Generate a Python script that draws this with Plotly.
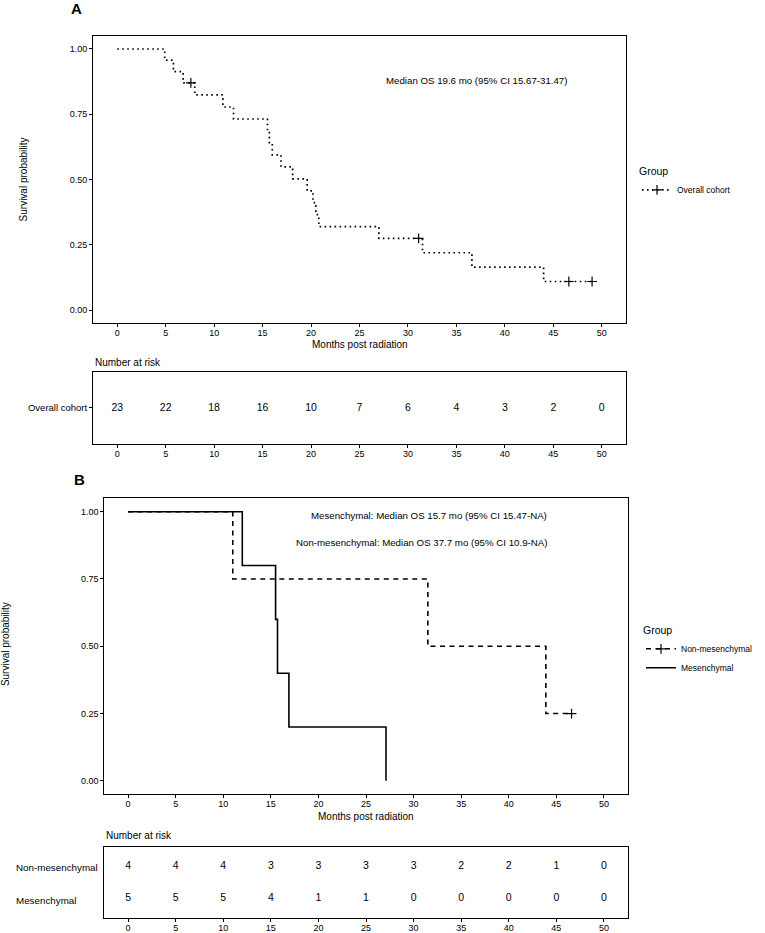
import plotly.graph_objects as go

W, H = 765, 933


def px(x):
    return x / W


def py(y):
    return 1 - y / H


FONT = "Liberation Sans, Arial, Helvetica, sans-serif"

# ---------------- data ----------------
# Panel A: overall cohort Kaplan-Meier step curve
a_time = [0, 4.9, 5.8, 6.8, 8.0, 10.9, 12.0, 15.5, 15.7, 16.0, 16.9, 18.1,
          19.6, 20.2, 20.5, 20.8, 27.0, 31.5, 36.6, 44.0, 49.0]
a_surv = [1.0, 0.957, 0.913, 0.870, 0.824, 0.778, 0.732, 0.686, 0.641, 0.595,
          0.549, 0.503, 0.457, 0.412, 0.366, 0.320, 0.275, 0.220, 0.165, 0.110, 0.110]
a_cens_time = [7.6, 31.1, 46.6, 49.0]
a_cens_surv = [0.870, 0.275, 0.110, 0.110]

# Panel B: groups
non_time = [0, 11.0, 31.5, 43.9, 46.6]
non_surv = [1.0, 0.75, 0.50, 0.25, 0.25]
non_cens_time = [46.6]
non_cens_surv = [0.25]

mes_time = [0, 12.0, 15.5, 15.7, 16.9, 27.1]
mes_surv = [1.0, 0.80, 0.60, 0.40, 0.20, 0.0]

# Risk tables
risk_times = [0, 5, 10, 15, 20, 25, 30, 35, 40, 45, 50]
risk_overall = [23, 22, 18, 16, 10, 7, 6, 4, 3, 2, 0]
risk_non = [4, 4, 4, 3, 3, 3, 3, 2, 2, 1, 0]
risk_mes = [5, 5, 5, 4, 1, 1, 0, 0, 0, 0, 0]

x_ticks = [0, 5, 10, 15, 20, 25, 30, 35, 40, 45, 50]
y_ticks = [0, 0.25, 0.5, 0.75, 1.0]
y_ticktext = ["0.00", "0.25", "0.50", "0.75", "1.00"]

DOT = "1.6px,3.4px"
DASH = "5px,4.5px"
CENS = dict(symbol="cross-thin", size=7, line=dict(color="black", width=1.2))

fig = go.Figure()

# ---------------- Panel A ----------------
fig.add_trace(go.Scatter(x=a_time, y=a_surv, mode="lines", line=dict(shape="hv", color="black", width=1.7, dash=DOT),
                         showlegend=False, xaxis="x", yaxis="y", hoverinfo="skip"))
fig.add_trace(go.Scatter(x=a_cens_time, y=a_cens_surv, mode="markers", marker=CENS,
                         showlegend=False, xaxis="x", yaxis="y", hoverinfo="skip"))
fig.add_trace(go.Scatter(x=[None], y=[None], mode="lines+markers", name="Overall cohort",
                         line=dict(color="black", width=1.7, dash=DOT), marker=CENS,
                         legend="legend", xaxis="x", yaxis="y"))

# Risk table A
fig.add_trace(go.Scatter(x=risk_times, y=[1] * len(risk_times), mode="text",
                         text=[str(v) for v in risk_overall],
                         textfont=dict(family=FONT, size=10.5, color="black"),
                         showlegend=False, xaxis="x2", yaxis="y2", hoverinfo="skip"))

# ---------------- Panel B ----------------
fig.add_trace(go.Scatter(x=non_time, y=non_surv, mode="lines", line=dict(shape="hv", color="black", width=1.6, dash=DASH),
                         showlegend=False, xaxis="x3", yaxis="y3", hoverinfo="skip"))
fig.add_trace(go.Scatter(x=non_cens_time, y=non_cens_surv, mode="markers", marker=CENS,
                         showlegend=False, xaxis="x3", yaxis="y3", hoverinfo="skip"))
fig.add_trace(go.Scatter(x=mes_time, y=mes_surv, mode="lines", line=dict(shape="hv", color="black", width=1.6),
                         showlegend=False, xaxis="x3", yaxis="y3", hoverinfo="skip"))
fig.add_trace(go.Scatter(x=[None], y=[None], mode="lines+markers", name="Non-mesenchymal",
                         line=dict(color="black", width=1.6, dash=DASH), marker=CENS,
                         legend="legend2", xaxis="x3", yaxis="y3"))
fig.add_trace(go.Scatter(x=[None], y=[None], mode="lines", name="Mesenchymal",
                         line=dict(color="black", width=1.6),
                         legend="legend2", xaxis="x3", yaxis="y3"))

# Risk table B
fig.add_trace(go.Scatter(x=risk_times, y=[2] * len(risk_times), mode="text",
                         text=[str(v) for v in risk_non],
                         textfont=dict(family=FONT, size=10.5, color="black"),
                         showlegend=False, xaxis="x4", yaxis="y4", hoverinfo="skip"))
fig.add_trace(go.Scatter(x=risk_times, y=[1] * len(risk_times), mode="text",
                         text=[str(v) for v in risk_mes],
                         textfont=dict(family=FONT, size=10.5, color="black"),
                         showlegend=False, xaxis="x4", yaxis="y4", hoverinfo="skip"))

axis_common = dict(showline=True, linecolor="black", linewidth=1, mirror=True,
                   ticks="outside", ticklen=3, tickwidth=1, tickcolor="black",
                   showgrid=False, zeroline=False,
                   tickfont=dict(family=FONT, size=9, color="black"))
x_common = dict(range=[-2.5, 52.5], tickvals=x_ticks, ticklabelstandoff=-2, **axis_common)

xA = [px(93), px(626)]
yA = [py(324), py(36)]
yA2 = [py(445), py(372.7)]
xB = [px(104.3), px(627.7)]
yB = [py(796), py(499.3)]
yB2 = [py(920), py(849)]

fig.update_layout(
    width=W, height=H,
    margin=dict(l=0, r=0, t=0, b=0),
    paper_bgcolor="white", plot_bgcolor="white",
    font=dict(family=FONT, color="black"),
    xaxis=dict(domain=xA, anchor="y", **x_common),
    yaxis=dict(domain=yA, range=[-0.05, 1.05], tickvals=y_ticks, ticktext=y_ticktext, anchor="x", **axis_common),
    xaxis2=dict(domain=xA, anchor="y2", **x_common),
    yaxis2=dict(domain=yA2, range=[0.4, 1.6], tickvals=[1], ticktext=["Overall cohort"], anchor="x2",
                **{**axis_common, "tickfont": dict(family=FONT, size=9.5, color="black")}),
    xaxis3=dict(domain=xB, anchor="y3", **x_common),
    yaxis3=dict(domain=yB, range=[-0.05, 1.05], tickvals=y_ticks, ticktext=y_ticktext, anchor="x3", **axis_common),
    xaxis4=dict(domain=xB, anchor="y4", **x_common),
    yaxis4=dict(domain=yB2, range=[0.4, 2.6], tickvals=[1, 2], showticklabels=False, anchor="x4",
                **{**axis_common, "ticks": ""}),
    legend=dict(x=px(637), y=py(162), xanchor="left", yanchor="top",
                title=dict(text="Group", font=dict(family=FONT, size=10.5)),
                font=dict(family=FONT, size=8.5), bgcolor="rgba(0,0,0,0)"),
    legend2=dict(x=px(641), y=py(622), xanchor="left", yanchor="top",
                 title=dict(text="Group", font=dict(family=FONT, size=10.5)),
                 font=dict(family=FONT, size=8.5), bgcolor="rgba(0,0,0,0)"),
)

ann = []


def add_text(text, x, y, size, xanchor="center", yanchor="middle", angle=0, bold=False):
    t = f"<b>{text}</b>" if bold else text
    ann.append(dict(text=t, x=px(x), y=py(y), xref="paper", yref="paper", showarrow=False,
                    xanchor=xanchor, yanchor=yanchor, textangle=angle,
                    font=dict(family=FONT, size=size, color="black")))


add_text("A", 69, 8.5, 15, xanchor="left", bold=True)
add_text("B", 72, 481, 15, xanchor="left", bold=True)
add_text("Survival probability", 23.8, 180, 10, angle=-90)
add_text("Survival probability", 5.5, 646, 10, angle=-90)
add_text("Months post radiation", 359.5, 345.5, 10)
add_text("Months post radiation", 366, 818.5, 10)
add_text("Number at risk", 93, 363.3, 10, xanchor="left")
add_text("Number at risk", 104, 837.3, 10, xanchor="left")
add_text("Median OS 19.6 mo (95% CI 15.67-31.47)", 476, 80.7, 9.7)
add_text("Mesenchymal: Median OS 15.7 mo (95% CI 15.47-NA)", 549, 516.7, 9.7, xanchor="right")
add_text("Non-mesenchymal: Median OS 37.7 mo (95% CI 10.9-NA)", 549, 543.3, 9.7, xanchor="right")
add_text("Non-mesenchymal", 13.7, 869.3, 9.8, xanchor="left")
add_text("Mesenchymal", 13.7, 902, 9.8, xanchor="left")

fig.update_layout(annotations=ann)

fig.write_html("out.html")
